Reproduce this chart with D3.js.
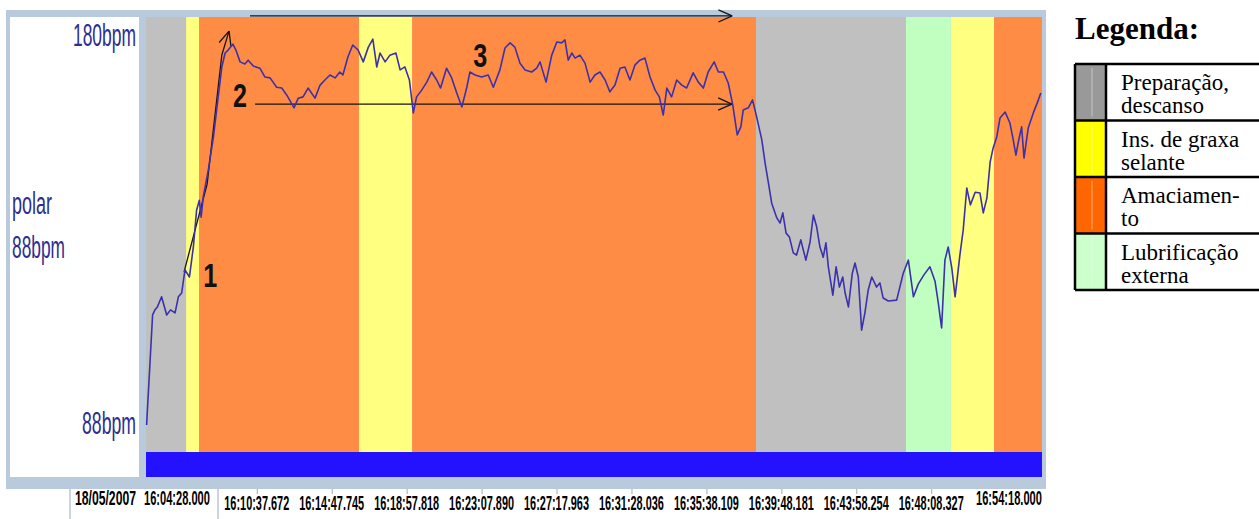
<!DOCTYPE html>
<html>
<head>
<meta charset="utf-8">
<script src="https://cdn.jsdelivr.net/npm/d3@7"></script>
<style>
  body { margin: 0; background: #fff; overflow: hidden; }
</style>
</head>
<body>
<div id="chart"></div>
<script>
// ---- data ----
const recDate = "18/05/2007";
const startTime = "16:04:28.000";
const endTime = "16:54:18.000";
const tickLabels = ["16:10:37.672", "16:14:47.745", "16:18:57.818", "16:23:07.890", "16:27:17.963",
                    "16:31:28.036", "16:35:38.109", "16:39:48.181", "16:43:58.254", "16:48:08.327"];

// phase boundaries (clock time) and what happens in between
const phaseTimes = ["16:04:28", "16:06:42", "16:07:25", "16:16:19", "16:19:16",
                    "16:38:24", "16:46:44", "16:49:14", "16:51:38", "16:54:18"];
const phaseKinds = ["prep", "graxa", "amac", "graxa", "amac", "prep", "lub", "graxa", "amac"];

const legendKinds = ["prep", "graxa", "amac", "lub"];
const legendLabels = [["Preparação,", "descanso"], ["Ins. de graxa", "selante"], ["Amaciamen-", "to"], ["Lubrificação", "externa"]];

const yMin = 88, yMax = 180;

// heart rate: seconds after start, bpm
const hrSeconds = [2, 22, 30, 38, 52, 69, 82, 97, 108, 119, 130, 145, 158, 169, 178, 184, 191, 208, 225, 241,
  253, 264, 274, 290, 300, 314, 330, 341, 358, 380, 397, 414, 436, 453, 470, 494, 508, 524, 541, 564,
  581, 597, 614, 631, 647, 657, 674, 690, 708, 725, 742, 757, 770, 781, 798, 814, 834, 848, 864, 879,
  892, 903, 920, 937, 953, 970, 983, 1003, 1020, 1037, 1054, 1070, 1081, 1098, 1120, 1142, 1159, 1181, 1198, 1215,
  1231, 1248, 1265, 1287, 1304, 1315, 1335, 1354, 1371, 1387, 1398, 1409, 1421, 1432, 1448, 1465, 1482, 1498, 1515, 1532,
  1548, 1565, 1582, 1598, 1615, 1632, 1648, 1665, 1682, 1699, 1713, 1726, 1738, 1754, 1771, 1788, 1804, 1826, 1843, 1860,
  1876, 1896, 1910, 1927, 1943, 1958, 1973, 1985, 1993, 2010, 2024, 2038, 2055, 2066, 2077, 2088, 2105, 2116, 2125, 2136,
  2147, 2160, 2171, 2185, 2202, 2216, 2227, 2238, 2249, 2260, 2269, 2277, 2292, 2303, 2314, 2325, 2333, 2344, 2357, 2366,
  2377, 2388, 2399, 2410, 2422, 2438, 2449, 2460, 2477, 2505, 2527, 2544, 2561, 2577, 2596, 2616, 2633, 2644, 2655, 2666,
  2677, 2689, 2700, 2716, 2727, 2739, 2751, 2767, 2783, 2794, 2806, 2817, 2827, 2839, 2850, 2867, 2883, 2894, 2903, 2911,
  2922, 2930, 2944, 2961, 2978, 2986];
const hrBpm = [88.0, 114.1, 115.3, 116.0, 118.4, 114.1, 115.3, 114.6, 118.4, 119.3, 124.8, 123.1, 130.2, 139.0, 141.3, 137.3, 142.1, 148.5, 156.3, 165.8,
  172.9, 176.2, 176.9, 178.3, 176.9, 174.1, 173.6, 174.5, 173.1, 172.6, 170.5, 170.3, 168.1, 167.9, 166.2, 163.2, 165.5, 165.8, 167.9, 165.5,
  168.6, 169.8, 171.0, 170.3, 171.7, 171.0, 175.3, 178.1, 176.9, 174.1, 177.6, 179.5, 172.9, 176.2, 174.1, 175.7, 176.2, 172.2, 172.9, 169.8,
  162.0, 165.8, 167.4, 169.3, 171.7, 169.8, 167.9, 172.6, 170.3, 166.7, 163.4, 167.9, 171.7, 171.0, 170.5, 171.0, 168.1, 172.2, 177.4, 178.6,
  177.6, 173.8, 172.2, 171.7, 172.6, 174.1, 169.3, 175.7, 178.8, 178.6, 179.3, 174.5, 176.2, 175.0, 175.7, 173.8, 169.3, 171.0, 171.7, 169.8,
  167.0, 168.6, 172.6, 172.9, 169.8, 173.4, 174.5, 175.0, 170.5, 167.4, 165.8, 161.5, 167.9, 165.8, 169.8, 168.6, 167.9, 171.5, 169.3, 167.9,
  171.7, 174.1, 171.7, 171.7, 169.1, 163.9, 156.8, 158.7, 162.7, 163.2, 165.1, 161.0, 155.6, 150.1, 145.4, 140.6, 137.1, 135.9, 138.3, 133.5,
  132.6, 128.8, 128.3, 131.9, 127.1, 131.4, 137.8, 135.0, 130.2, 127.8, 131.2, 125.5, 118.8, 125.5, 120.7, 123.1, 119.3, 116.0, 124.0, 126.4,
  123.1, 110.5, 114.6, 120.0, 123.1, 120.7, 121.7, 118.1, 117.4, 117.6, 124.0, 127.1, 118.4, 121.4, 123.6, 125.5, 122.1, 116.9, 111.0, 127.1,
  130.2, 125.2, 118.4, 128.3, 134.2, 144.2, 140.2, 143.2, 143.0, 138.3, 141.8, 150.4, 153.7, 156.3, 160.8, 162.2, 159.6, 155.6, 152.0, 155.1,
  158.7, 151.3, 158.4, 162.0, 165.1, 166.7];

// annotations (seconds after start, bpm)
const riseArrow = [[127, 124.3], [204, 145.1], [253, 175.7], [277, 181.4]];
const steadyArrow = [[364, 164.1], [1955, 164.1]];
const topArrow = [[347, 185.0], [1956, 185.0]];
const marks = [["1", 214, 123.6], ["2", 314, 166.2], ["3", 1115, 175.7]];

// ---- layout ----
const layout = {
  width: 1259, height: 519,
  frameLeft: 6, frameTop: 10, frameRight: 1046, frameBottom: 489,
  panelLeft: 10, panelRight: 139,
  plotLeft: 146, plotRight: 1042, plotTop: 17, plotBottom: 452, barBottom: 477,
  yTop: 37, yBottom: 425
};
const narrow = "'Liberation Sans Narrow', 'Arial Narrow', 'Liberation Sans', Arial, sans-serif";
const serif = "'Liberation Serif', 'Times New Roman', serif";

const bandColor = d3.scaleOrdinal().domain(["prep", "graxa", "amac", "lub"])
  .range(["#c0c0c0", "#ffff80", "#ff8c45", "#c0ffc0"]);
const legendColor = d3.scaleOrdinal().domain(["prep", "graxa", "amac", "lub"])
  .range(["#999999", "#ffff00", "#ff6600", "#ccffcc"]);

function toSec(t) {
  const p = t.split(":").map(Number);
  return p[0] * 3600 + p[1] * 60 + p[2];
}
const t0 = toSec(startTime);

// squeeze a text horizontally so it is `w` px wide, left edge at x
function squeeze(sel, x, y, w) {
  sel.attr("x", 0).attr("y", 0).attr("dy", 0);
  sel.each(function() {
    const len = this.getComputedTextLength();
    d3.select(this).attr("transform", `translate(${x},${y}) scale(${w / len},1)`);
  });
  return sel;
}

const svg = d3.select("#chart").append("svg")
  .attr("width", layout.width)
  .attr("height", layout.height)
  .attr("viewBox", [0, 0, layout.width, layout.height].join(" "));

const xScale = d3.scaleLinear()
  .domain([0, toSec(endTime) - t0])
  .range([layout.plotLeft, layout.plotRight]);
const yScale = d3.scaleLinear()
  .domain([yMin, yMax])
  .range([layout.yBottom, layout.yTop]);

// frame + white label panel
svg.append("rect")
  .attr("x", layout.frameLeft).attr("y", layout.frameTop)
  .attr("width", layout.frameRight - layout.frameLeft)
  .attr("height", layout.frameBottom - layout.frameTop)
  .attr("fill", "#b9cadd");
svg.append("rect")
  .attr("x", layout.panelLeft).attr("y", layout.plotTop)
  .attr("width", layout.panelRight - layout.panelLeft)
  .attr("height", layout.barBottom - layout.plotTop)
  .attr("fill", "#ffffff");

// phase bands
const phases = phaseKinds.map((k, i) => ({
  kind: k,
  from: toSec(phaseTimes[i]) - t0,
  to: toSec(phaseTimes[i + 1]) - t0
}));
svg.append("g").selectAll("rect").data(phases).join("rect")
  .attr("x", d => xScale(d.from))
  .attr("y", layout.plotTop)
  .attr("width", d => xScale(d.to) - xScale(d.from))
  .attr("height", layout.plotBottom - layout.plotTop)
  .attr("fill", d => bandColor(d.kind));

// blue strip under the plot
svg.append("rect")
  .attr("x", xScale.range()[0]).attr("y", layout.plotBottom)
  .attr("width", xScale.range()[1] - xScale.range()[0])
  .attr("height", layout.barBottom - layout.plotBottom)
  .attr("fill", "#2412ff");

// annotation arrows (under the curve)
function arrowHead(g, p1, p2, len, spread) {
  const a = Math.atan2(p2[1] - p1[1], p2[0] - p1[0]);
  [-spread, spread].forEach(s => {
    g.append("line")
      .attr("x1", p2[0]).attr("y1", p2[1])
      .attr("x2", p2[0] - len * Math.cos(a + s))
      .attr("y2", p2[1] - len * Math.sin(a + s));
  });
}
const ann = svg.append("g").attr("stroke", "#151515").attr("stroke-width", 1.3).attr("fill", "none");
[riseArrow, steadyArrow, topArrow].forEach(pts => {
  const px = pts.map(p => [xScale(p[0]), yScale(p[1])]);
  ann.append("path").attr("d", d3.line()(px));
  arrowHead(ann, px[px.length - 2], px[px.length - 1], 15, 0.42);
});

// heart-rate curve
const hr = d3.zip(hrSeconds, hrBpm);
svg.append("path")
  .datum(hr)
  .attr("fill", "none")
  .attr("stroke", "#3b31ad")
  .attr("stroke-width", 1.6)
  .attr("stroke-linejoin", "round")
  .attr("d", d3.line()
    .x(d => xScale(d[0]))
    .y(d => yScale(d[1])));

// numbered marks
svg.append("g").selectAll("text").data(marks).join("text")
  .attr("font-family", narrow)
  .attr("font-weight", "bold")
  .attr("font-size", 33)
  .attr("fill", "#111")
  .text(d => d[0])
  .each(function(d) {
    squeeze(d3.select(this), xScale(d[1]) - 7, yScale(d[2]) + 12, 14);
  });

// y labels
const yLab = svg.append("g").attr("font-family", narrow).attr("font-size", 31).attr("fill", "#2e2e90");
squeeze(yLab.append("text").text(yMax + "bpm"), layout.panelRight - 66, yScale(yMax) + 9, 63);
squeeze(yLab.append("text").text(yMin + "bpm"), layout.panelRight - 57, yScale(yMin) + 9, 54);
squeeze(yLab.append("text").text("polar"), 12, 214, 40);
squeeze(yLab.append("text").text(yMin + "bpm"), 12, 258, 53);

// time axis
const tickSecs = tickLabels.map(t => toSec(t) - t0);
const xAxis = svg.append("g")
  .attr("transform", `translate(0,${layout.frameBottom})`)
  .call(d3.axisBottom(xScale).tickValues(tickSecs).tickSize(5).tickFormat((d, i) => tickLabels[i]));
xAxis.select(".domain").remove();
xAxis.selectAll("line").attr("stroke", "#9aaabb");
const tickText = xAxis.selectAll("text")
  .attr("text-anchor", "start")
  .attr("fill", "#000")
  .attr("font-family", narrow)
  .attr("font-weight", "bold")
  .attr("font-size", 20);
squeeze(tickText, -33, 21, 65);

// separators in the label row
svg.append("g").attr("stroke", "#9aaabb").selectAll("line").data([70, 218]).join("line")
  .attr("x1", d => d).attr("x2", d => d)
  .attr("y1", layout.frameBottom).attr("y2", layout.height);

const edgeLab = svg.append("g").attr("font-family", narrow).attr("font-weight", "bold")
  .attr("font-size", 20).attr("fill", "#000");
squeeze(edgeLab.append("text").text(recDate), 75, 505, 61);
squeeze(edgeLab.append("text").text(startTime), 144, 505, 66);
squeeze(edgeLab.append("text").text(endTime), xScale.range()[1] - 66, 505, 66);

// legend
const leg = svg.append("g");
leg.append("text")
  .attr("x", 1075).attr("y", 39)
  .attr("font-family", serif).attr("font-weight", "bold").attr("font-size", 31)
  .text("Legenda:");
const rowTop = 64, rowH = 56.5, legLeft = 1075, swatchRight = 1106;
const rows = leg.selectAll("g.row").data(legendKinds).join("g")
  .attr("class", "row")
  .attr("transform", (d, i) => `translate(0,${rowTop + i * rowH})`);
rows.append("rect")
  .attr("x", legLeft).attr("y", 0)
  .attr("width", swatchRight - legLeft).attr("height", rowH)
  .attr("fill", d => legendColor(d));
rows.append("line")
  .attr("x1", legLeft + 17).attr("x2", legLeft + 17)
  .attr("y1", 4).attr("y2", rowH - 4)
  .attr("stroke", "#ffffff").attr("stroke-opacity", 0.45);
rows.each(function(d, i) {
  const g = d3.select(this);
  legendLabels[i].forEach((line, j) => {
    g.append("text")
      .attr("x", 1121).attr("y", 26 + j * 23)
      .attr("font-family", serif).attr("font-size", 23).attr("fill", "#000")
      .text(line);
  });
});
// table lines
const grid = leg.append("g").attr("stroke", "#000").attr("stroke-width", 2.5);
legendKinds.concat(["end"]).forEach((d, i) => {
  grid.append("line").attr("x1", legLeft).attr("x2", layout.width + 2)
    .attr("y1", rowTop + i * rowH).attr("y2", rowTop + i * rowH);
});
[legLeft, swatchRight].forEach(xv => {
  grid.append("line").attr("x1", xv).attr("x2", xv)
    .attr("y1", rowTop).attr("y2", rowTop + legendKinds.length * rowH);
});
</script>
</body>
</html>
